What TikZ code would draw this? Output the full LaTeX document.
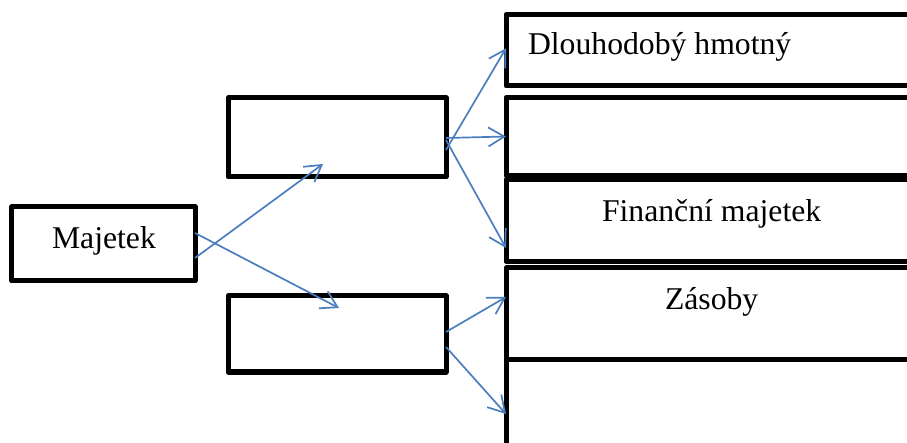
\documentclass[tikz,border=0pt]{standalone}
\usepackage{fontspec}
\setmainfont{Liberation Serif}
\usetikzlibrary{arrows.meta}
\tikzset{
  box/.style={draw=black, line width=5bp, fill=white, rectangle, inner sep=0pt, outer sep=0pt, line join=round},
  conn/.style={draw=arrowblue, line width=1.7bp, -{Straight Barb[length=16bp,width=19bp,line width=1.7bp]}},
  lbl/.style={anchor=base west, inner sep=0pt, outer sep=0pt, font=\fontsize{31.7bp}{38bp}\selectfont}
}
\definecolor{arrowblue}{RGB}{74,126,190}
\begin{document}
\begin{tikzpicture}[x=1bp,y=-1bp]
\useasboundingbox (0,0) rectangle (907,443);
\clip (0,0) rectangle (907,443);
% left box
\node[box, minimum width=183bp, minimum height=74bp] (maj) at (103.5,244) {};
% middle boxes
\node[box, minimum width=218bp, minimum height=79bp] (up) at (337,137.5) {};
\node[box, minimum width=218bp, minimum height=76bp] (down) at (337,334) {};
% right boxes (extend past the right edge)
\node[box, minimum width=480bp, minimum height=71.5bp] (r1) at (746,50.25) {};
\node[box, minimum width=480bp, minimum height=78bp] (r2) at (746,136.5) {};
\node[box, minimum width=480bp, minimum height=82bp] (r3) at (746,220.5) {};
\node[box, minimum width=480bp, minimum height=91.5bp] (r4) at (746,313.75) {};
\node[box, minimum width=480bp, minimum height=140bp] (r5) at (746,429.5) {};
% texts
\node[lbl] (tmaj) at (52,249) {Majetek};
\node[lbl] (t1) at (528,55) {Dlouhodobý hmotný};
\node[lbl] (t3) at (602,222) {Finanční majetek};
\node[lbl] (t4) at (665,310) {Zásoby};
% free ends of arrows inside middle boxes
\coordinate (e1) at (323,164);
\coordinate (e2) at (339,308);
% connectors
\draw[conn] ([yshift=-14bp]maj.east) -- (e1);
\draw[conn] ([yshift=11bp]maj.east) -- (e2);
\draw[conn] ([yshift=-12.5bp]up.east) -- ([yshift=2bp]r1.west);
\draw[conn] ([yshift=-0.5bp]up.east) -- (r2.west);
\draw[conn] ([yshift=-2.5bp]up.east) -- ([yshift=-27.5bp]r3.west);
\draw[conn] ([yshift=2bp]down.east) -- ([yshift=16.75bp]r4.west);
\draw[conn] ([yshift=-13bp]down.east) -- ([yshift=15.5bp]r5.west);
\end{tikzpicture}
\end{document}
